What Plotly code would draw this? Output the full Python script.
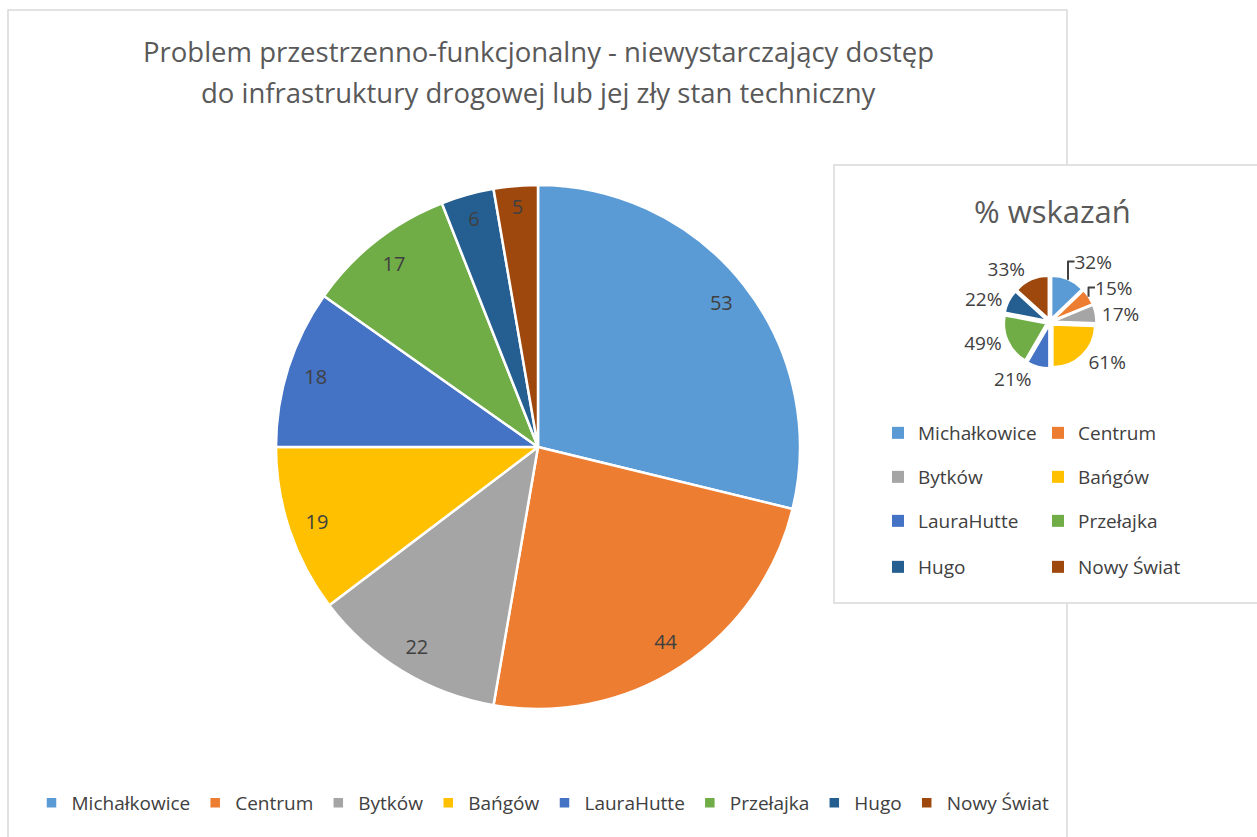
import plotly.graph_objects as go

W, H = 1257, 837

labels = ["Michałkowice", "Centrum", "Bytków", "Bańgów", "LauraHutte", "Przełajka", "Hugo", "Nowy Świat"]
counts = [53, 44, 22, 19, 18, 17, 6, 5]
percents = [32, 15, 17, 61, 21, 49, 22, 33]
colors = ["#5B9BD5", "#ED7D31", "#A5A5A5", "#FFC000", "#4472C4", "#70AD47", "#255E91", "#9E480E"]

title_lines = ["Problem przestrzenno-funkcjonalny - niewystarczający dostęp",
               "do infrastruktury drogowej lub jej zły stan techniczny"]
inset_title = "% wskazań"

FONT = "Open Sans"
TXT = "#404040"
TITLE_C = "#595959"

def px(x):
    return x / W

def py(y):
    return 1 - y / H

# main pie geometry (pixels)
mcx, mcy, mr = 538, 447, 262
main_dom = dict(x=[px(mcx - mr), px(mcx + mr)], y=[py(mcy + mr), py(mcy - mr)])
# inset pie
scx, scy, sr = 1050, 322, 46
small_dom = dict(x=[px(scx - sr), px(scx + sr)], y=[py(scy + sr), py(scy - sr)])

fig = go.Figure()

fig.add_trace(go.Pie(
    labels=labels, values=counts, sort=False, direction="clockwise", rotation=0,
    marker=dict(colors=colors, line=dict(color="white", width=2.5)),
    textinfo="none", domain=main_dom, legend="legend", legendgroup="main",
    hoverinfo="label+value",
))
# transparent ring overlay carrying the value labels near the outer edge
fig.add_trace(go.Pie(
    labels=labels, values=counts, sort=False, direction="clockwise", rotation=0,
    hole=0.78, marker=dict(colors=["rgba(0,0,0,0)"] * len(labels), line=dict(width=0)),
    textinfo="value", textposition="inside", insidetextorientation="horizontal",
    textfont=dict(family=FONT, size=20, color=TXT),
    domain=main_dom, showlegend=False, hoverinfo="skip",
))
# inset pie
fig.add_trace(go.Pie(
    labels=labels, values=percents, sort=False, direction="clockwise", rotation=0,
    marker=dict(colors=colors, line=dict(color="white", width=1.5)),
    pull=[0.1] * len(labels),
    texttemplate="%{value}%", textposition="outside",
    textfont=dict(family=FONT, size=19, color=TXT),
    domain=small_dom, showlegend=False, hoverinfo="label+value",
))

common_leg = dict(orientation="h", traceorder="normal", bgcolor="rgba(0,0,0,0)",
                  itemclick=False, itemdoubleclick=False)

# inset legend: 2 columns x 4 rows, one horizontal legend per row
row_y = [433, 477, 521, 567]
legend_rows = {}
for r in range(4):
    lname = "legend%d" % (r + 2)
    sl = slice(2 * r, 2 * r + 2)
    fig.add_trace(go.Pie(
        labels=labels[sl], values=percents[sl], sort=False,
        marker=dict(colors=colors[sl], line=dict(width=0)),
        textinfo="none", domain=dict(x=[0.0005, 0.0006], y=[0.5, 0.5001]),
        legend=lname, legendgroup="inset%d" % r, hoverinfo="skip",
    ))
    legend_rows[lname] = dict(
        x=px(878), xanchor="left", y=py(row_y[r]), yanchor="middle",
        entrywidth=115, font=dict(family=FONT, size=19, color=TXT), **common_leg,
    )

shapes = [
    dict(type="rect", xref="paper", yref="paper", x0=px(8), x1=px(1067), y0=py(850), y1=py(10),
         line=dict(color="#D9D9D9", width=1.5), fillcolor="white", layer="below"),
    dict(type="rect", xref="paper", yref="paper", x0=px(834), x1=px(1270), y0=py(603), y1=py(165),
         line=dict(color="#D9D9D9", width=1.5), fillcolor="white", layer="below"),
]

annotations = [
    dict(text=title_lines[0], x=px(538), y=py(52), xref="paper", yref="paper", showarrow=False,
         xanchor="center", yanchor="middle", font=dict(family=FONT, size=27.5, color=TITLE_C)),
    dict(text=title_lines[1], x=px(538), y=py(92), xref="paper", yref="paper", showarrow=False,
         xanchor="center", yanchor="middle", font=dict(family=FONT, size=27.5, color=TITLE_C)),
    dict(text=inset_title, x=px(1052), y=py(211), xref="paper", yref="paper", showarrow=False,
         xanchor="center", yanchor="middle", font=dict(family=FONT, size=31, color=TITLE_C)),
]

fig.update_layout(
    width=W, height=H, margin=dict(l=0, r=0, t=0, b=0),
    paper_bgcolor="white", plot_bgcolor="white",
    shapes=shapes, annotations=annotations,
    legend=dict(x=px(543), xanchor="center", y=py(803), yanchor="middle",
                font=dict(family=FONT, size=19, color=TXT), **common_leg),
    **legend_rows,
)

fig.write_html("out.html", config={"displayModeBar": False},
               post_script="document.body.style.margin='0';")
